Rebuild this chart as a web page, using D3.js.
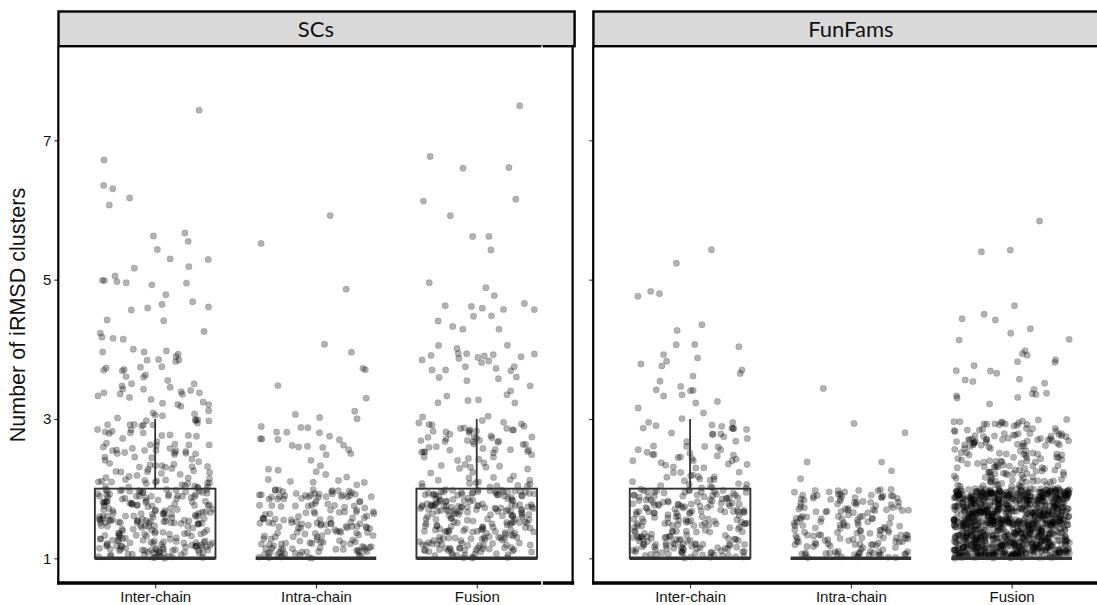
<!DOCTYPE html>
<html>
<head>
<meta charset="utf-8">
<script src="https://cdn.jsdelivr.net/npm/d3@7"></script>
<style>
  html, body { margin: 0; padding: 0; background: #fff; }
  svg { display: block; }
</style>
</head>
<body>
<svg id="chart" width="1097" height="605"></svg>
<script>
// ---------------- DATA ----------------
const facets = ["SCs", "FunFams"];
const categories = ["Inter-chain", "Intra-chain", "Fusion"];
// integer cluster counts 1..7; arrays give how many cases have each value
const clusterValues = [1, 2, 3, 4, 5, 6, 7];
const scsInter  = [225, 95, 45, 20, 9, 5, 1];
const scsIntra  = [170, 32, 9, 2, 2, 0, 0];
const scsFusion = [225, 80, 32, 18, 4, 5, 1];
const ffInter   = [210, 65, 20, 8, 2, 0, 0];
const ffIntra   = [170, 6, 1, 0, 0, 0, 0];
const ffFusion  = [950, 170, 22, 8, 3, 0, 0];
const yTicks = [1, 3, 5, 7];
const yTitle = "Number of iRMSD clusters";

const facetCounts = {
  "SCs":     [scsInter, scsIntra, scsFusion],
  "FunFams": [ffInter, ffIntra, ffFusion]
};

// ---------------- LAYOUT ----------------
const svg = d3.select("#chart");
const panelTop = 47, panelBottom = 583;
const stripTop = 11.5;
const panels = [
  { name: "SCs",     x0: 58.7,  x1: 573.2 },
  { name: "FunFams", x0: 593.6, x1: 1108.1 }
];
const y = d3.scaleLinear().domain([0.65, 8.34]).range([582.7, panelTop]);

// deterministic jitter generator (geom_jitter-like transform)
function mulberry32(a) {
  return function() {
    a |= 0; a = a + 0x6D2B79F5 | 0;
    let t = Math.imul(a ^ a >>> 15, 1 | a);
    t = t + Math.imul(t ^ t >>> 7, 61 | t) ^ t;
    return ((t ^ t >>> 14) >>> 0) / 4294967296;
  };
}
const rnd = mulberry32(20240611);

const tickFont = "'Liberation Sans', Arial, Helvetica, sans-serif";

panels.forEach((p, pi) => {
  const g = svg.append("g");
  const x = d3.scalePoint().domain(categories).range([p.x0, p.x1]).padding(0.6);
  const step = x.step();

  const clipId = "clip" + pi;
  svg.append("clipPath").attr("id", clipId)
    .append("rect").attr("x", p.x0).attr("y", panelTop).attr("width", p.x1 - p.x0).attr("height", panelBottom - panelTop);
  const plot = g.append("g").attr("clip-path", `url(#${clipId})`);

  const groups = categories.map((c, ci) => {
    const counts = facetCounts[p.name][ci];
    const vals = [];
    counts.forEach((n, k) => { for (let i = 0; i < n; i++) vals.push(clusterValues[k]); });
    return { cat: c, vals };
  });

  const pts = [];
  groups.forEach(gr => {
    gr.vals.forEach(v => {
      pts.push({ cat: gr.cat, v, jx: (rnd() * 2 - 1) * 0.36, jy: rnd() * 0.995 });
    });
  });
  plot.append("g").selectAll("circle").data(pts).join("circle")
    .attr("cx", d => x(d.cat) + d.jx * step)
    .attr("cy", d => y(d.v + d.jy))
    .attr("r", 3.2)
    .attr("fill", "#000").attr("fill-opacity", 0.3)
    .attr("stroke", "#000").attr("stroke-opacity", 0.2).attr("stroke-width", 0.6);

  groups.forEach(gr => {
    const s = gr.vals.slice().sort(d3.ascending);
    const q1 = d3.quantileSorted(s, 0.25), med = d3.quantileSorted(s, 0.5), q3 = d3.quantileSorted(s, 0.75);
    const iqr = q3 - q1;
    const hiW = d3.max(s.filter(v => v <= q3 + 1.5 * iqr));
    const loW = d3.min(s.filter(v => v >= q1 - 1.5 * iqr));
    const cx = x(gr.cat), hw = 0.375 * step;
    const bg = plot.append("g").attr("stroke", "#333").attr("fill", "none");
    if (hiW > q3) bg.append("line").attr("x1", cx).attr("x2", cx).attr("y1", y(q3)).attr("y2", y(hiW)).attr("stroke-width", 1.8);
    if (loW < q1) bg.append("line").attr("x1", cx).attr("x2", cx).attr("y1", y(q1)).attr("y2", y(loW)).attr("stroke-width", 1.8);
    bg.append("rect").attr("x", cx - hw).attr("width", 2 * hw)
      .attr("y", y(q3)).attr("height", Math.max(0, y(q1) - y(q3))).attr("stroke-width", 1.9);
    bg.append("line").attr("x1", cx - hw).attr("x2", cx + hw).attr("y1", y(med)).attr("y2", y(med)).attr("stroke-width", 3.4);
  });

  const yAxis = d3.axisLeft(y).tickValues(yTicks).tickSize(4).tickPadding(3)
    .tickFormat(pi === 0 ? d3.format("d") : () => "");
  const ya = g.append("g").attr("transform", `translate(${p.x0 - 0.4},0)`).call(yAxis);
  ya.select(".domain").remove();
  ya.selectAll(".tick line").attr("stroke", "#333").attr("stroke-width", 1.1);
  ya.selectAll(".tick text").attr("fill", "#111").style("font-family", tickFont).style("font-size", "15px");

  const xAxis = d3.axisBottom(x).tickSize(5.5).tickPadding(3);
  const xa = g.append("g").attr("transform", `translate(0,${panelBottom})`).call(xAxis);
  xa.select(".domain").remove();
  xa.selectAll(".tick line").attr("stroke", "#333").attr("stroke-width", 1.1);
  xa.selectAll(".tick text").attr("fill", "#111").style("font-family", tickFont).style("font-size", "15px");

  g.append("line").attr("x1", p.x0 - 0.4).attr("x2", p.x0 - 0.4).attr("y1", panelTop).attr("y2", panelBottom + 1.6)
    .attr("stroke", "#000").attr("stroke-width", 2.2);
  g.append("line").attr("x1", p.x0 - 1.5).attr("x2", p.x1 + 1).attr("y1", panelBottom).attr("y2", panelBottom)
    .attr("stroke", "#000").attr("stroke-width", 3.3);
  if (pi === 0) {
    g.append("line").attr("x1", p.x1 - 0.6).attr("x2", p.x1 - 0.6).attr("y1", panelTop).attr("y2", panelBottom + 1.6)
      .attr("stroke", "#000").attr("stroke-width", 2.2);
  }

  g.append("rect").attr("x", p.x0 - 0.2).attr("y", stripTop).attr("width", p.x1 - p.x0 + 1.6).attr("height", panelTop - stripTop - 0.8)
    .attr("fill", "#d9d9d9").attr("stroke", "#000").attr("stroke-width", 2.4);
  g.append("text").attr("x", (p.x0 + p.x1) / 2).attr("y", 37)
    .attr("text-anchor", "middle").attr("fill", "#111")
    .style("font-family", "Lato, 'Open Sans', sans-serif").style("font-size", "22px")
    .text(p.name);

  if (pi === 0) {
    g.append("line").attr("x1", 542).attr("x2", 542).attr("y1", 45.5).attr("y2", 49).attr("stroke", "#fff").attr("stroke-width", 1.4);
    g.append("line").attr("x1", 542).attr("x2", 542).attr("y1", 580.5).attr("y2", 585.5).attr("stroke", "#fff").attr("stroke-width", 1.6);
  }
});

svg.append("text")
  .attr("transform", `translate(25,${(panelTop + panelBottom) / 2}) rotate(-90)`)
  .attr("text-anchor", "middle").attr("fill", "#111")
  .style("font-family", tickFont).style("font-size", "21.5px")
  .text(yTitle);
</script>
</body>
</html>
